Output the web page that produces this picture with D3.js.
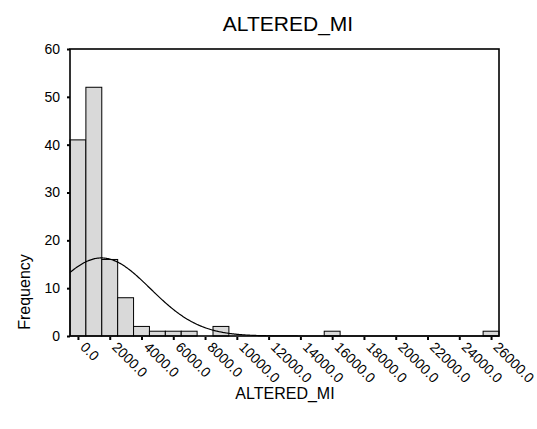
<!DOCTYPE html>
<html>
<head>
<meta charset="utf-8">
<script src="https://cdn.jsdelivr.net/npm/d3@7"></script>
<style>
  body { margin: 0; background: #fff; }
  svg text { font-family: Arial, "Liberation Sans", sans-serif; fill: #000; }
</style>
</head>
<body>
<svg id="chart" width="537" height="429"></svg>
<script>
// bin centres (step 1000) and counts
const binCenters = [0, 1000, 2000, 3000, 4000, 5000, 6000, 7000, 8000, 9000, 10000, 11000, 12000, 13000,
  14000, 15000, 16000, 17000, 18000, 19000, 20000, 21000, 22000, 23000, 24000, 25000, 26000];
const counts = [41, 52, 16, 8, 2, 1, 1, 1, 0, 2, 0, 0, 0, 0,
  0, 0, 1, 0, 0, 0, 0, 0, 0, 0, 0, 0, 1];
const xTicks = [0, 2000, 4000, 6000, 8000, 10000, 12000, 14000, 16000, 18000, 20000, 22000, 24000, 26000];
const yTicks = [0, 10, 20, 30, 40, 50, 60];
// normal curve stats
const curveMean = 1480;
const curveSd = 3080;
const binWidth = 1000;

const N = d3.sum(counts);
const PADDING = { top: 49, right: 38, bottom: 93, left: 70 };
const width = 537, height = 429;

const svg = d3.select("#chart");

const xscale = d3.scaleLinear()
    .domain([-500, 26500])
    .range([PADDING.left, width - PADDING.right]);
const yscale = d3.scaleLinear()
    .domain([0, 60])
    .range([height - PADDING.bottom, PADDING.top]);

// bars
svg.append("g")
    .selectAll("rect")
    .data(binCenters.map((c, i) => ({ c, n: counts[i] })).filter(d => d.n > 0))
    .join("rect")
    .attr("x", d => xscale(d.c - binWidth / 2))
    .attr("width", d => xscale(d.c + binWidth / 2) - xscale(d.c - binWidth / 2))
    .attr("y", d => yscale(d.n))
    .attr("height", d => yscale(0) - yscale(d.n))
    .attr("fill", "#d9d9d9")
    .attr("stroke", "#000")
    .attr("stroke-width", 1);

// normal curve
const curveX = d3.range(-500, 26501, 50);
const line = d3.line()
    .x(d => xscale(d))
    .y(d => yscale(N * binWidth / (curveSd * Math.sqrt(2 * Math.PI)) *
        Math.exp(-0.5 * Math.pow((d - curveMean) / curveSd, 2))))
    .curve(d3.curveBasis);

svg.append("path")
    .datum(curveX)
    .attr("fill", "none")
    .attr("stroke", "#000")
    .attr("stroke-width", 1.2)
    .attr("d", line);

// frame
svg.append("rect")
    .attr("x", xscale.range()[0])
    .attr("y", yscale.range()[1])
    .attr("width", xscale.range()[1] - xscale.range()[0])
    .attr("height", yscale.range()[0] - yscale.range()[1])
    .attr("fill", "none")
    .attr("stroke", "#000")
    .attr("stroke-width", 1.6);

// y axis
const yaxis = d3.axisLeft(yscale).tickValues(yTicks).tickSize(3).tickPadding(7).tickFormat(d3.format("d"));
const gy = svg.append("g")
    .attr("transform", `translate(${PADDING.left},0)`)
    .call(yaxis);
gy.select(".domain").remove();
gy.selectAll(".tick line").attr("stroke-width", 2);
gy.selectAll("text").attr("font-size", 14);

// x axis
const xaxis = d3.axisBottom(xscale).tickValues(xTicks).tickSize(3).tickFormat(d3.format(".1f"));
const gx = svg.append("g")
    .attr("transform", `translate(0,${height - PADDING.bottom + 1})`)
    .call(xaxis);
gx.select(".domain").remove();
gx.selectAll(".tick line").attr("stroke-width", 2);
gx.selectAll("text")
    .attr("font-size", 14)
    .attr("text-anchor", "start")
    .attr("dy", "0")
    .attr("y", 0)
    .attr("transform", "translate(1,11) rotate(45)");

// titles
svg.append("text")
    .attr("x", 288)
    .attr("y", 31)
    .attr("text-anchor", "middle")
    .attr("font-size", 21)
    .text("ALTERED_MI");

svg.append("text")
    .attr("x", 285)
    .attr("y", 399)
    .attr("text-anchor", "middle")
    .attr("font-size", 16)
    .text("ALTERED_MI");

svg.append("text")
    .attr("transform", "translate(30,292) rotate(-90)")
    .attr("text-anchor", "middle")
    .attr("font-size", 16)
    .text("Frequency");
</script>
</body>
</html>
